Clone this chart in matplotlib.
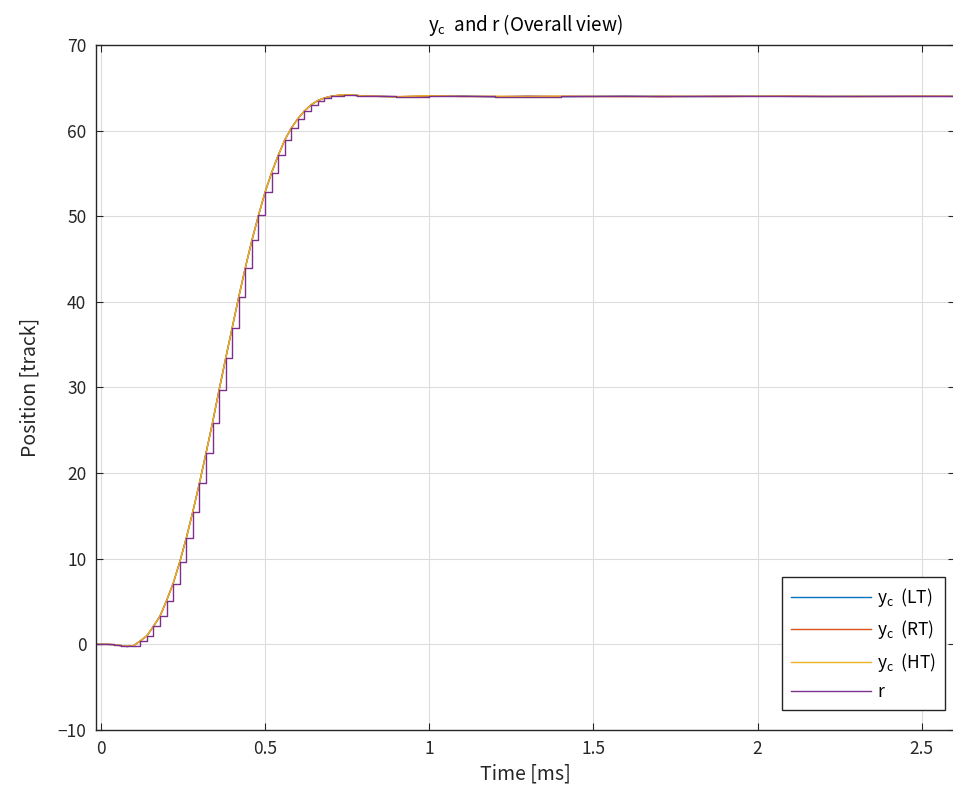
import matplotlib
matplotlib.use("Agg")
import matplotlib.pyplot as plt

plt.rcParams['font.family'] = ['Noto Sans CJK JP', 'DejaVu Sans']
plt.rcParams['mathtext.fontset'] = 'custom'
plt.rcParams['mathtext.rm'] = 'Noto Sans CJK JP'

# ---- data ----
# sample times of the reference r (step, held value) [ms]
r_time = [-0.02, 0.00, 0.02, 0.04, 0.06, 0.08, 0.10, 0.12, 0.14, 0.16, 0.18,
          0.20, 0.22, 0.24, 0.26, 0.28, 0.30, 0.32, 0.34, 0.36, 0.38,
          0.40, 0.42, 0.44, 0.46, 0.48, 0.50, 0.52, 0.54, 0.56, 0.58,
          0.60, 0.62, 0.64, 0.66, 0.68, 0.70, 0.72, 0.74, 0.76, 0.78,
          0.80, 0.84, 0.90, 1.00, 1.10, 1.20, 1.40, 1.60, 1.80, 2.00,
          2.20, 2.40, 2.60]
r_value = [0.0, 0.0, 0.0, -0.05, -0.15, -0.25, -0.15, 0.4, 1.0, 2.1, 3.3,
           5.1, 7.1, 9.6, 12.4, 15.5, 18.8, 22.3, 25.9, 29.7, 33.4,
           37.0, 40.6, 44.0, 47.2, 50.1, 52.8, 55.1, 57.1, 58.9, 60.3,
           61.4, 62.3, 63.0, 63.5, 63.8, 64.0, 64.1, 64.15, 64.15, 64.1,
           64.05, 64.0, 63.98, 64.0, 64.02, 63.98, 64.0, 64.01, 63.99, 64.0,
           64.0, 64.01, 64.0]

# time base of the controlled outputs y_c [ms]
yc_time = [-0.02, 0.00, 0.02, 0.04, 0.06, 0.08, 0.10, 0.12, 0.14, 0.16, 0.18,
           0.20, 0.22, 0.24, 0.26, 0.28, 0.30, 0.32, 0.34, 0.36, 0.38,
           0.40, 0.42, 0.44, 0.46, 0.48, 0.50, 0.52, 0.54, 0.56, 0.58,
           0.60, 0.62, 0.64, 0.66, 0.68, 0.70, 0.72, 0.74, 0.76, 0.78,
           0.80, 0.90, 1.00, 1.10, 1.20, 1.30, 1.40, 1.50, 1.60, 1.70,
           1.80, 1.90, 2.00, 2.10, 2.20, 2.30, 2.40, 2.50, 2.60]
yc_LT = [0.0, 0.0, 0.0, -0.05, -0.15, -0.25, -0.15, 0.4, 1.0, 2.1, 3.3,
         5.1, 7.1, 9.6, 12.4, 15.5, 18.8, 22.3, 25.9, 29.7, 33.4,
         37.0, 40.6, 44.0, 47.2, 50.1, 52.8, 55.1, 57.1, 58.9, 60.3,
         61.4, 62.3, 63.0, 63.5, 63.8, 64.0, 64.1, 64.15, 64.15, 64.1,
         64.05, 63.95, 64.0, 64.03, 63.95, 64.0, 63.96, 64.0, 64.02, 64.0,
         63.98, 64.0, 64.02, 64.0, 63.98, 64.0, 64.0, 64.0, 64.0]
yc_RT = [0.0, 0.0, 0.0, -0.05, -0.15, -0.25, -0.15, 0.4, 1.0, 2.1, 3.3,
         5.1, 7.1, 9.6, 12.4, 15.5, 18.8, 22.3, 25.9, 29.7, 33.4,
         37.0, 40.6, 44.0, 47.2, 50.1, 52.8, 55.1, 57.1, 58.9, 60.3,
         61.4, 62.3, 63.0, 63.5, 63.8, 64.0, 64.1, 64.17, 64.17, 64.1,
         64.05, 63.97, 64.05, 64.0, 63.97, 64.02, 64.0, 63.98, 64.0, 63.95,
         64.0, 64.02, 64.0, 64.03, 64.0, 63.97, 64.0, 64.02, 64.0]
yc_HT = [0.0, 0.0, 0.0, -0.05, -0.15, -0.25, -0.15, 0.4, 1.0, 2.1, 3.3,
         5.1, 7.1, 9.6, 12.4, 15.5, 18.8, 22.3, 25.9, 29.7, 33.4,
         37.0, 40.6, 44.0, 47.2, 50.1, 52.8, 55.1, 57.1, 58.9, 60.3,
         61.4, 62.3, 63.0, 63.5, 63.8, 64.0, 64.12, 64.2, 64.2, 64.12,
         64.05, 63.93, 64.08, 63.98, 64.02, 63.95, 64.02, 64.0, 63.96, 64.03,
         64.0, 63.96, 64.02, 64.0, 63.98, 64.02, 63.98, 64.0, 64.0]

series_labels = [r'$\mathregular{y_c}$  (LT)', r'$\mathregular{y_c}$  (RT)',
                 r'$\mathregular{y_c}$  (HT)', 'r']
colors = ['#0072BD', '#D95319', '#EDB120', '#7E2F8E']

x_ticks = [0, 0.5, 1, 1.5, 2, 2.5]
x_ticklabels = ['0', '0.5', '1', '1.5', '2', '2.5']
y_ticks = [-10, 0, 10, 20, 30, 40, 50, 60, 70]

# ---- figure ----
fig = plt.figure(figsize=(9.54, 7.95), dpi=100)
ax = fig.add_axes([0.1006, 0.0818, 0.9, 0.8616])

lw = 1.0
ax.plot(yc_time, yc_LT, color=colors[0], lw=lw, label=series_labels[0])
ax.plot(yc_time, yc_RT, color=colors[1], lw=lw, label=series_labels[1])
ax.plot(yc_time, yc_HT, color=colors[2], lw=lw, label=series_labels[2])
ax.step(r_time, r_value, where='post', color=colors[3], lw=lw, label=series_labels[3])

ax.set_xlim(-0.015, 2.6)
ax.set_ylim(-10, 70)
ax.set_xticks(x_ticks)
ax.set_xticklabels(x_ticklabels)
ax.set_yticks(y_ticks)

ax.grid(True, color='#dcdcdc', lw=0.8)
ax.set_axisbelow(True)
axis_col = '#262626'
for s in ax.spines.values():
    s.set_color(axis_col)
    s.set_linewidth(1.0)
ax.tick_params(direction='in', top=True, right=True, colors=axis_col,
               labelsize=12.5, length=5, pad=7)

ax.set_xlabel('Time [ms]', fontsize=14, color=axis_col, labelpad=4)
ax.set_ylabel('Position [track]', fontsize=14, color=axis_col, labelpad=12)
ax.set_title(r'$\mathregular{y_c}$  and r (Overall view)', fontsize=13.5,
             color='black', pad=10)

leg = ax.legend(loc='lower right', bbox_to_anchor=(945 / 954, 1 - 710 / 795),
                bbox_transform=fig.transFigure, borderaxespad=0,
                fontsize=12.5, handlelength=4.6,
                fancybox=False, framealpha=1, edgecolor=axis_col,
                labelspacing=0.55, handletextpad=0.4, borderpad=0.5)
leg.get_frame().set_linewidth(1.0)

fig.savefig('out.png', dpi=100)
